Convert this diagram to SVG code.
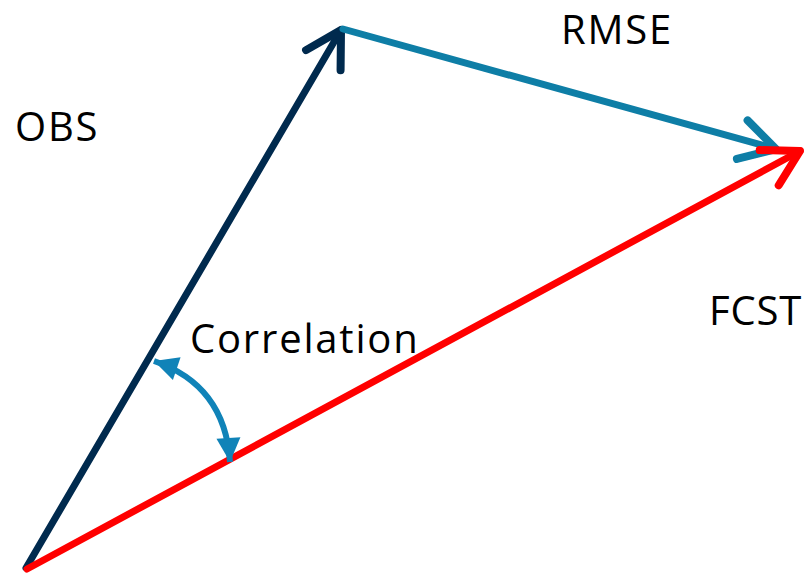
<svg xmlns="http://www.w3.org/2000/svg" width="805" height="574" viewBox="0 0 805 574">
<style>
.lbl{font-family:"Open Sans","Liberation Sans",sans-serif;font-size:40px;letter-spacing:1.8px;fill:#000}
.vec{fill:none;stroke-width:7;stroke-linecap:round;stroke-linejoin:round}
</style>
<defs>
<marker id="hNavy" markerUnits="userSpaceOnUse" viewBox="-45 -25 55 50" markerWidth="55" markerHeight="50" refX="0" refY="0" orient="auto">
<path d="M-35,-20 L0,0 L-35,20" fill="none" stroke="#002A4E" stroke-width="8" stroke-linecap="round" stroke-linejoin="round"/>
</marker>
<marker id="hTeal" markerUnits="userSpaceOnUse" viewBox="-45 -25 55 50" markerWidth="55" markerHeight="50" refX="0" refY="0" orient="auto">
<path d="M-35,-20 L0,0 L-35,20" fill="none" stroke="#0E7EA6" stroke-width="8" stroke-linecap="round" stroke-linejoin="round"/>
</marker>
<marker id="hRed" markerUnits="userSpaceOnUse" viewBox="-45 -25 55 50" markerWidth="55" markerHeight="50" refX="0" refY="0" orient="auto">
<path d="M-35,-20 L0,0 L-35,20" fill="none" stroke="#FF0000" stroke-width="8" stroke-linecap="round" stroke-linejoin="round"/>
</marker>
<marker id="hArc" markerUnits="userSpaceOnUse" viewBox="-26 -14 28 28" markerWidth="28" markerHeight="28" refX="0" refY="0" orient="auto-start-reverse">
<path d="M-24,-12 L0,0 L-24,12 Z" fill="#1083B8"/>
</marker>
</defs>
<g id="connectors">
<line id="obs-vec" class="vec" x1="26" y1="568" x2="341" y2="30" stroke="#002A4E" marker-end="url(#hNavy)"/>
<line id="rmse-vec" class="vec" x1="343" y1="29" x2="776" y2="149" stroke="#0E7EA6" marker-end="url(#hTeal)"/>
<line id="fcst-vec" class="vec" x1="27" y1="569" x2="800" y2="151" stroke="#FF0000" marker-end="url(#hRed)"/>
<path id="corr-arc" d="M154,361 Q225,385 230,462" fill="none" stroke="#1083B8" stroke-width="6" marker-start="url(#hArc)" marker-end="url(#hArc)"/>
</g>
<g id="OBS"><text class="lbl" x="15" y="141">OBS</text></g>
<g id="RMSE"><text class="lbl" x="561" y="44">RMSE</text></g>
<g id="FCST"><text class="lbl" x="709" y="325" style="letter-spacing:0.8px">FCST</text></g>
<g id="Correlation"><text class="lbl" x="190" y="353">Correlation</text></g>
</svg>
